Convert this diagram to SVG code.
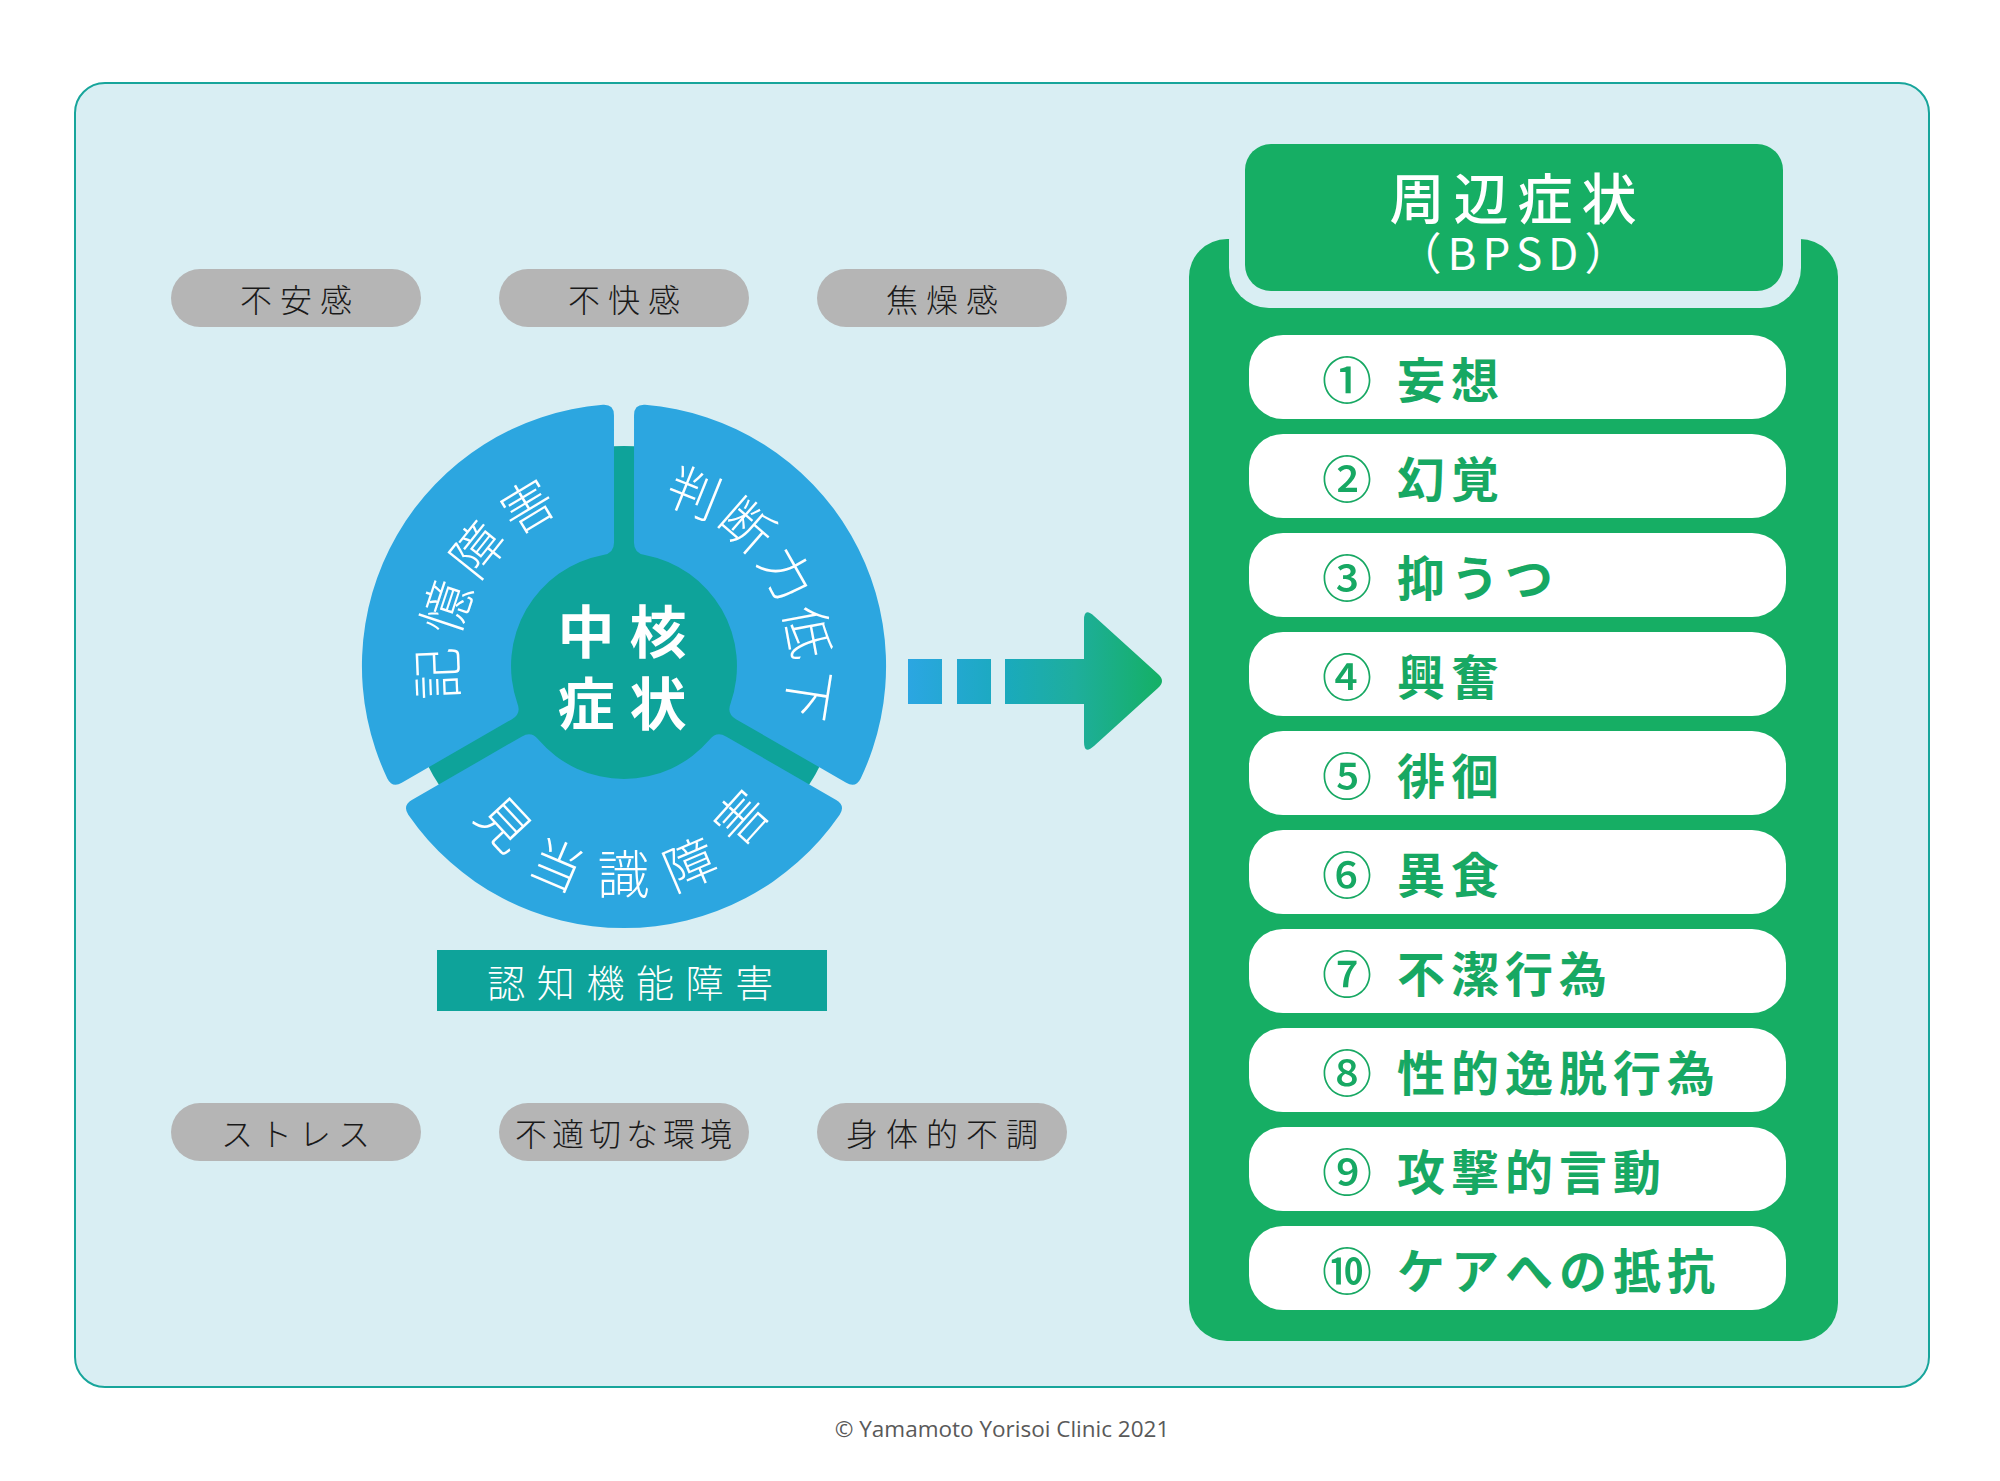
<svg xmlns="http://www.w3.org/2000/svg" xmlns:xlink="http://www.w3.org/1999/xlink" width="2000" height="1481" viewBox="0 0 2000 1481">
<style>
.jp{font-family:"Noto Sans CJK JP","Noto Sans CJK SC",sans-serif;}
.pill rect{fill:#b5b5b5;}
.pill text{font-family:"Noto Sans CJK JP",sans-serif;font-size:32px;font-weight:300;fill:#1a1a1a;text-anchor:middle;dominant-baseline:central;}
.seg{fill:#2ca6e0;}
.rt{font-family:"Noto Sans CJK JP",sans-serif;font-size:52px;font-weight:300;fill:#ffffff;text-anchor:middle;dominant-baseline:central;}
.item rect{fill:#ffffff;}
.num{font-family:"Noto Sans CJK JP",sans-serif;font-size:50px;font-weight:500;fill:#17a863;text-anchor:middle;dominant-baseline:central;}
.itx{font-family:"Noto Sans CJK JP",sans-serif;font-size:48px;font-weight:700;fill:#17a863;letter-spacing:6px;dominant-baseline:central;}
</style>
<defs>
<linearGradient id="ag" gradientUnits="userSpaceOnUse" x1="908" y1="0" x2="1165" y2="0">
<stop offset="0" stop-color="#2ba6e2"/>
<stop offset="0.38" stop-color="#1aaabd"/>
<stop offset="0.65" stop-color="#1eae9c"/>
<stop offset="1" stop-color="#14b063"/>
</linearGradient>
<path id="seg" d="M -102.0,70.4 L -212.2,134.1 Q -221.7,139.6 -215.7,148.8 A 262 262 0 0 0 215.7,148.8 Q 221.7,139.6 212.2,134.1 L 102.0,70.4 Q 92.5,64.9 85.7,73.6 A 113 113 0 0 1 -85.7,73.6 Q -92.5,64.9 -102.0,70.4 Z"/>
</defs>
<rect width="2000" height="1481" fill="#ffffff"/>
<g id="frame">
<rect x="75" y="83" width="1854" height="1304" rx="30" fill="#d9eef3" stroke="#17a59b" stroke-width="2"/>
<text x="1002" y="1437" font-family="'Open Sans','Liberation Sans',sans-serif" font-size="22.5" fill="#595959" text-anchor="middle">© Yamamoto Yorisoi Clinic 2021</text>
</g>
<g id="pill-fuankan" class="pill"><rect x="171" y="269" width="250" height="58" rx="29"/><text x="300" y="298" letter-spacing="8">不安感</text></g>
<g id="pill-fukaikan" class="pill"><rect x="499" y="269" width="250" height="58" rx="29"/><text x="628" y="298" letter-spacing="8">不快感</text></g>
<g id="pill-shousoukan" class="pill"><rect x="817" y="269" width="250" height="58" rx="29"/><text x="946" y="298" letter-spacing="8">焦燥感</text></g>
<g id="pill-stress" class="pill"><rect x="171" y="1103" width="250" height="58" rx="29"/><text x="299" y="1132" letter-spacing="7">ストレス</text></g>
<g id="pill-kankyou" class="pill"><rect x="499" y="1103" width="250" height="58" rx="29"/><text x="626" y="1132" letter-spacing="5">不適切な環境</text></g>
<g id="pill-fuchou" class="pill"><rect x="817" y="1103" width="250" height="58" rx="29"/><text x="946" y="1132" letter-spacing="8">身体的不調</text></g>
<g id="core">
<circle cx="624" cy="666" r="220" fill="#0ea39a"/>
<g id="seg-kioku">
<use xlink:href="#seg" class="seg" transform="translate(624 666) rotate(120)"/>
<text class="rt" transform="translate(434.2 673.6) rotate(267.7)">記</text>
<text class="rt" transform="translate(443.6 606.3) rotate(288.3)">憶</text>
<text class="rt" transform="translate(475.5 547.5) rotate(308.6)">障</text>
<text class="rt" transform="translate(525.9 503.3) rotate(328.9)">害</text>
</g>
<g id="seg-handan">
<use xlink:href="#seg" class="seg" transform="translate(624 666) rotate(-120)"/>
<text class="rt" transform="translate(695.2 489.8) rotate(22)">判</text>
<text class="rt" transform="translate(749.2 523.0) rotate(41.2)">断</text>
<text class="rt" transform="translate(789.2 572.2) rotate(60.4)">力</text>
<text class="rt" transform="translate(810.9 631.7) rotate(79.6)">低</text>
<text class="rt" transform="translate(811.8 695.1) rotate(98.8)">下</text>
</g>
<g id="seg-kentoushiki">
<use xlink:href="#seg" class="seg" transform="translate(624 666)"/>
<text class="rt" transform="translate(506.7 821.7) rotate(47)">見</text>
<text class="rt" transform="translate(558.3 861.7) rotate(23)">当</text>
<text class="rt" transform="translate(623.5 871.7) rotate(0)">識</text>
<text class="rt" transform="translate(688.7 861.7) rotate(-23)">障</text>
<text class="rt" transform="translate(738.7 815.3) rotate(-48)">害</text>
</g>
<g id="center">
<text font-family="'Noto Sans CJK JP',sans-serif" font-size="57" font-weight="700" fill="#ffffff" text-anchor="middle" dominant-baseline="central"><tspan x="586 658" y="628">中核</tspan><tspan x="586 658" y="700">症状</tspan></text>
</g>
</g>
<g id="label-ninchi">
<rect x="437" y="950" width="390" height="61" fill="#0ea39a"/>
<text x="636" y="980" font-family="'Noto Sans CJK JP',sans-serif" font-size="38" font-weight="300" fill="#ffffff" text-anchor="middle" dominant-baseline="central" letter-spacing="11.6">認知機能障害</text>
</g>
<g id="connectors">
<rect x="908" y="659" width="34" height="45" fill="url(#ag)"/>
<rect x="957" y="659" width="34" height="45" fill="url(#ag)"/>
<path d="M1005,659 H1086 V704 H1005 Z M1084,620 Q1084,607 1094,616 L1158,674 Q1166,681 1158,688 L1094,746 Q1084,755 1084,742 Z" fill="url(#ag)"/>
</g>
<g id="bpsd-panel">
<rect x="1189" y="239" width="649" height="1102" rx="38" fill="#16ae64"/>
<rect x="1229" y="200" width="572" height="108" rx="40" fill="#d9eef3"/>
<rect x="1245" y="144" width="538" height="147" rx="26" fill="#16ae64"/>
<text font-family="'Noto Sans CJK JP',sans-serif" fill="#ffffff" text-anchor="middle" dominant-baseline="central"><tspan x="1517.5" y="195" font-size="55" font-weight="500" letter-spacing="9">周辺症状</tspan><tspan x="1516" y="251" font-size="44" font-weight="400" letter-spacing="6">（BPSD）</tspan></text>
</g>
<g id="item-1" class="item"><rect x="1249" y="335" width="537" height="84" rx="34"/><text class="num" x="1347" y="377">①</text><text class="itx" x="1397" y="377">妄想</text></g>
<g id="item-2" class="item"><rect x="1249" y="434" width="537" height="84" rx="34"/><text class="num" x="1347" y="476">②</text><text class="itx" x="1397" y="476">幻覚</text></g>
<g id="item-3" class="item"><rect x="1249" y="533" width="537" height="84" rx="34"/><text class="num" x="1347" y="575">③</text><text class="itx" x="1397" y="575">抑うつ</text></g>
<g id="item-4" class="item"><rect x="1249" y="632" width="537" height="84" rx="34"/><text class="num" x="1347" y="674">④</text><text class="itx" x="1397" y="674">興奮</text></g>
<g id="item-5" class="item"><rect x="1249" y="731" width="537" height="84" rx="34"/><text class="num" x="1347" y="773">⑤</text><text class="itx" x="1397" y="773">徘徊</text></g>
<g id="item-6" class="item"><rect x="1249" y="830" width="537" height="84" rx="34"/><text class="num" x="1347" y="872">⑥</text><text class="itx" x="1397" y="872">異食</text></g>
<g id="item-7" class="item"><rect x="1249" y="929" width="537" height="84" rx="34"/><text class="num" x="1347" y="971">⑦</text><text class="itx" x="1397" y="971">不潔行為</text></g>
<g id="item-8" class="item"><rect x="1249" y="1028" width="537" height="84" rx="34"/><text class="num" x="1347" y="1070">⑧</text><text class="itx" x="1397" y="1070">性的逸脱行為</text></g>
<g id="item-9" class="item"><rect x="1249" y="1127" width="537" height="84" rx="34"/><text class="num" x="1347" y="1169">⑨</text><text class="itx" x="1397" y="1169">攻撃的言動</text></g>
<g id="item-10" class="item"><rect x="1249" y="1226" width="537" height="84" rx="34"/><text class="num" x="1347" y="1268">⑩</text><text class="itx" x="1397" y="1268">ケアへの抵抗</text></g>
</svg>
